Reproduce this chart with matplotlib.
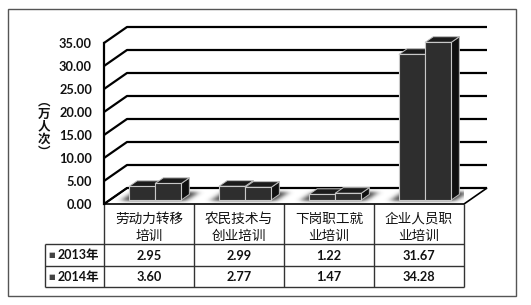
import numpy as np
import matplotlib
matplotlib.use("Agg")
import matplotlib.pyplot as plt
from matplotlib.patches import Polygon, Rectangle

# ---- data -------------------------------------------------------------
categories = ["劳动力转移\n培训", "农民技术与\n创业培训", "下岗职工就\n业培训", "企业人员职\n业培训"]
years = ["2013年", "2014年"]
values_2013 = [2.95, 2.99, 1.22, 31.67]
values_2014 = [3.60, 2.77, 1.47, 34.28]
value_labels_2013 = ["2.95", "2.99", "1.22", "31.67"]
value_labels_2014 = ["3.60", "2.77", "1.47", "34.28"]
y_ticks = [0, 5, 10, 15, 20, 25, 30, 35]
y_title = "︵万人次︶"

series = [values_2013, values_2014]
series_labels = [value_labels_2013, value_labels_2014]

NUM_FONT = ["Lato", "Noto Sans CJK SC"]
CJK_FONT = ["Noto Sans CJK SC", "DejaVu Sans"]

# ---- canvas -----------------------------------------------------------
W, H, DPI = 531, 305, 100
fig = plt.figure(figsize=(W / DPI, H / DPI), dpi=DPI)
fig.patch.set_facecolor("white")

bg = fig.add_axes([0, 0, 1, 1])
bg.set_xlim(0, W)
bg.set_ylim(H, 0)
bg.axis("off")

# front plane of the 3-D plot box (pixels)
FX0, FX1 = 104, 464
FY0, FY1 = 204, 43
n = len(categories)
ax = fig.add_axes([FX0 / W, (H - FY0) / H, (FX1 - FX0) / W, (FY0 - FY1) / H], zorder=2)
ax.set_xlim(-0.5, n - 0.5)
ax.set_ylim(y_ticks[0], y_ticks[-1])
ax.axis("off")

# pixel size of one data unit -> depth offset in data units
sx = (FX1 - FX0) / n
sy = (FY0 - FY1) / (y_ticks[-1] - y_ticks[0])
DX, DY = 23 / sx, 16 / sy


def P(x, v, t):
    """Point at category x, value v and depth t (0 front .. 1 back)."""
    return (x + t * DX, v + t * DY)


XL, XR = -0.5, n - 0.5

# floor
floor = Polygon([P(XL, 0, 0), P(XR, 0, 0), P(XR, 0, 1), P(XL, 0, 1)],
                closed=True, fc="white", ec="black", lw=1.2, clip_on=False, zorder=1)
ax.add_patch(floor)

# wall gridlines
for v in y_ticks:
    pts = np.array([P(XL, v, 0), P(XL, v, 1), P(XR, v, 1)])
    ax.plot(pts[:, 0], pts[:, 1], color="black", lw=1.6, clip_on=False,
            solid_capstyle="butt", zorder=1.5)
# front value axis
pts = np.array([P(XL, 0, 0), P(XL, y_ticks[-1], 0)])
ax.plot(pts[:, 0], pts[:, 1], color="black", lw=1.6, clip_on=False, zorder=1.5)

# bar geometry
BW = 0.29
T0, T1 = 0.25, 0.6
SHIFT = 0.005

# soft floor shadows
xa, xb = XL, XR + DX
va, vb = 0, DY
nx, ny = 420, 40
gx = np.linspace(xa, xb, nx)
gy = np.linspace(va, vb, ny)
GX, GY = np.meshgrid(gx, gy)
t = GY / DY
xf = GX - t * DX
mask = np.zeros_like(GX)
for i in range(n):
    px0 = i - BW + SHIFT - 0.08
    px1 = i + BW + SHIFT + 0.06
    mask[(t >= T0 - 0.05) & (t <= T1 + 0.15) & (xf >= px0) & (xf <= px1)] = 1.0


def blur1d(a, sigma, axis):
    r = int(3 * sigma) + 1
    k = np.exp(-0.5 * (np.arange(-r, r + 1) / sigma) ** 2)
    k /= k.sum()
    return np.apply_along_axis(lambda m: np.convolve(m, k, mode="same"), axis, a)


pix_x = nx / ((xb - xa) * sx)
pix_y = ny / ((vb - va) * sy)
mask = blur1d(mask, 3.5 * pix_x, 1)
mask = blur1d(mask, 1.5 * pix_y, 0)
rgba = np.zeros((ny, nx, 4))
rgba[..., :3] = 0.15
rgba[..., 3] = np.clip(mask * 0.9, 0, 1)
im = ax.imshow(rgba, extent=[xa, xb, va, vb], origin="lower", aspect="auto",
               interpolation="bilinear", zorder=1.2, clip_on=True)
im.set_clip_path(floor)
ax.set_xlim(-0.5, n - 0.5)
ax.set_ylim(y_ticks[0], y_ticks[-1])

# 3-D bars
for i in range(n):
    for s, vals in enumerate(series):
        x0 = i - BW + s * BW + SHIFT
        x1 = x0 + BW
        v = vals[i]
        front = [P(x0, 0, T0), P(x1, 0, T0), P(x1, v, T0), P(x0, v, T0)]
        top = [P(x0, v, T0), P(x1, v, T0), P(x1, v, T1), P(x0, v, T1)]
        side = [P(x1, 0, T0), P(x1, 0, T1), P(x1, v, T1), P(x1, v, T0)]
        z = 3 + i * 0.1 + s * 0.01
        ax.add_patch(Polygon(side, closed=True, fc="#101010", ec="#bdbdbd", lw=0.7,
                             clip_on=False, zorder=z, joinstyle="round"))
        ax.add_patch(Polygon(top, closed=True, fc="#1b1b1b", ec="#bdbdbd", lw=0.7,
                             clip_on=False, zorder=z, joinstyle="round"))
        ax.add_patch(Polygon(front, closed=True, fc="#2e2e2e", ec="#c8c8c8", lw=0.8,
                             clip_on=False, zorder=z + 0.001, joinstyle="round"))

# value axis labels
for v in y_ticks:
    ypix = FY0 - (v - y_ticks[0]) * sy
    bg.text(92, ypix + 1, f"{v:.2f}", ha="right", va="center", fontsize=9.2,
            fontweight="bold", family=NUM_FONT, color="#111111")

# axis title, stacked vertically
chars = list(y_title)
for k, ch in enumerate(chars):
    bg.text(44, 102 + k * 12.5, ch, ha="center", va="center", fontsize=9,
            fontweight="bold", family=CJK_FONT, color="#111111")

# data table
col_edges = [FX0 + k * sx for k in range(n + 1)]
ROW_TOP, ROW_H, ROW1, ROW2 = FY0, 244, 266, 287
LEG_X = 45
line_kw = dict(color="#333333", lw=1.0, solid_capstyle="butt")
for cx in col_edges:
    bg.plot([cx, cx], [ROW_TOP, ROW2], **line_kw)
bg.plot([LEG_X, LEG_X], [ROW_H, ROW2], **line_kw)
for yy in (ROW_H, ROW1, ROW2):
    bg.plot([LEG_X, col_edges[-1]], [yy, yy], **line_kw)

for i, cat in enumerate(categories):
    cxm = (col_edges[i] + col_edges[i + 1]) / 2
    l1, l2 = cat.split("\n")
    bg.text(cxm, 219, l1, ha="center", va="center", fontsize=9.8,
            family=CJK_FONT, color="#111111")
    bg.text(cxm, 236, l2, ha="center", va="center", fontsize=9.8,
            family=CJK_FONT, color="#111111")

row_centers = [(ROW_H + ROW1) / 2, (ROW1 + ROW2) / 2]
for s, labels in enumerate(series_labels):
    yc = row_centers[s] + 0.5
    bg.text(52, yc, "■", ha="center", va="center", fontsize=5,
            family=["DejaVu Sans"], color="#444444")
    bg.text(58, yc, years[s], ha="left", va="center", fontsize=9,
            fontweight="bold", family=NUM_FONT, color="#111111")
    for i, lab in enumerate(labels):
        cxm = (col_edges[i] + col_edges[i + 1]) / 2
        bg.text(cxm, yc, lab, ha="center", va="center", fontsize=9.2,
                fontweight="bold", family=NUM_FONT, color="#111111")

# chart frame
bg.add_patch(Rectangle((8, 9), 508, 287, fill=False, ec="#555555", lw=1.0))

fig.savefig("out.png", dpi=DPI, facecolor="white")
